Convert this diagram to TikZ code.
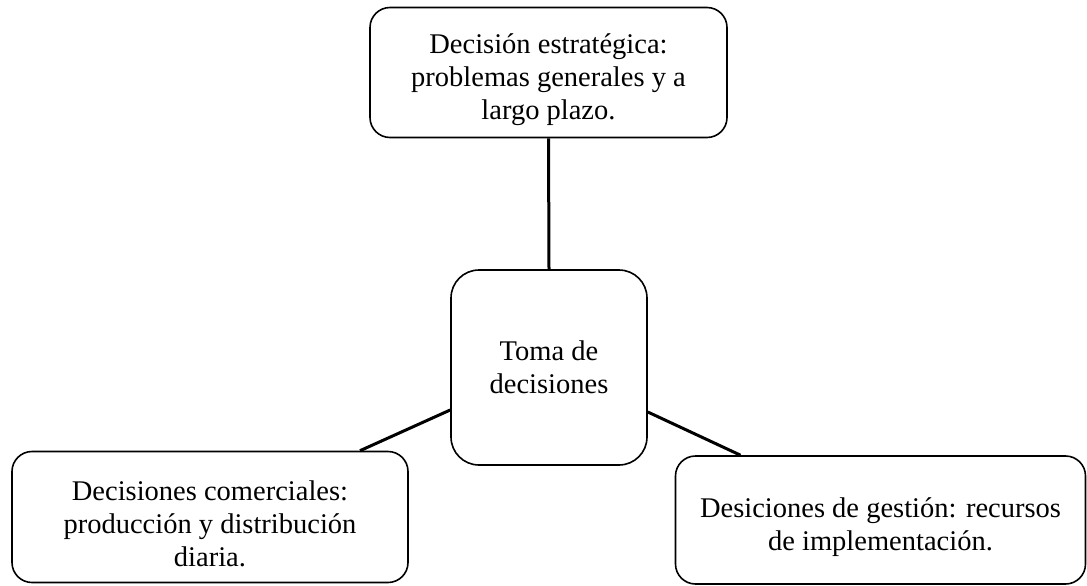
\documentclass[tikz,border=0pt]{standalone}
\usepackage{fontspec}
\setmainfont{Liberation Serif}
\usetikzlibrary{calc}
\newcommand{\lowr}{\rule{0pt}{34pt}}
\tikzset{
  box/.style={draw=black, line width=1.6pt, rounded corners=20pt, fill=white, align=center,
    font=\fontsize{28.5}{33}\selectfont, inner sep=0pt},
  link/.style={draw=black, line width=3pt},
}
\begin{document}
\begin{tikzpicture}[x=1pt,y=-1pt]
\useasboundingbox (0,0) rectangle (1087,586);
\node[box, minimum width=357pt, minimum height=130pt] (t) at (548.5,72.5)
  {\lowr Decisión estratégica:\\problemas generales y a\\largo plazo.};
\node[box, rounded corners=28pt, minimum width=196pt, minimum height=195pt] (c) at (549,367.5)
  {Toma de\\decisiones};
\node[box, minimum width=396pt, minimum height=131pt] (l) at (210,517)
  {\lowr Decisiones comerciales:\\producción y distribución\\diaria.};
\node[box, minimum width=410pt, minimum height=128pt] (r) at (880.5,520)
  {\lowr Desiciones de gestión: recursos\\de implementación.};
\draw[link] (t.south) -- (c.north);
\draw[link] ($(c.west)+(0,42.5)$) -- ($(l.north)+(150,0)$);
\draw[link] ($(c.east)+(0,44.5)$) -- ($(r.north)+(-140,0)$);
\end{tikzpicture}
\end{document}
